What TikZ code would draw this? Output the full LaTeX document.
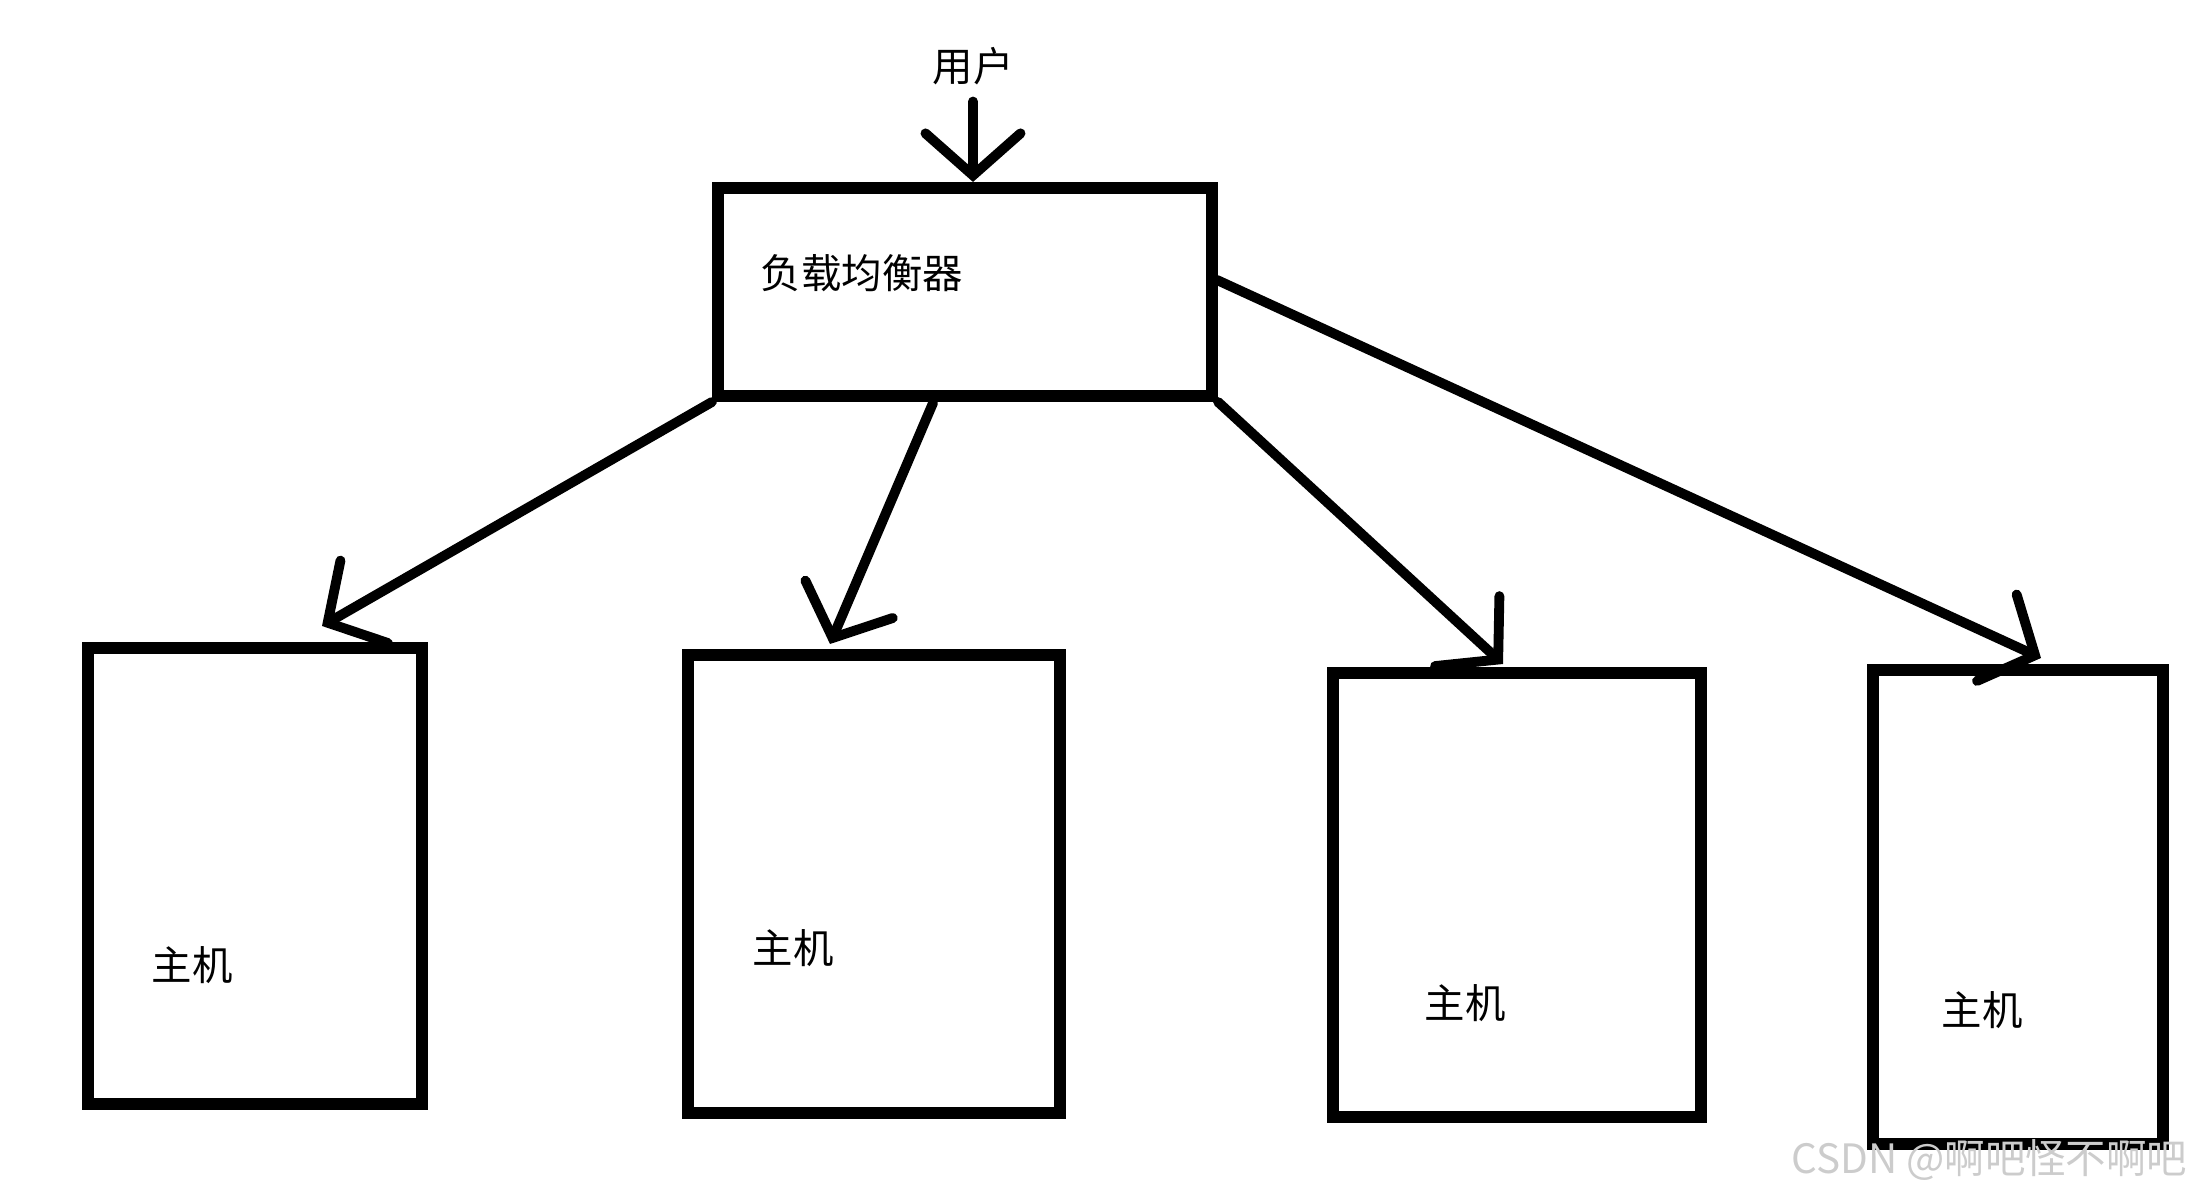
\documentclass[tikz,border=0pt]{standalone}
\usepackage{fontspec}
\setmainfont{Noto Sans CJK SC}
\usetikzlibrary{arrows.meta}

\begin{document}
\begin{tikzpicture}[x=0.01cm, y=-0.01cm,
    box/.style = {draw, line width=3.4pt, inner sep=0pt},
    txt/.style = {font=\fontsize{11.5}{14}\selectfont, inner sep=0pt},
    conn/.style = {line width=2.8pt, line cap=round,
        -{Straight Barb[length=0.42cm, width=0.95cm, line cap=round]}}]
    \useasboundingbox (0,0) rectangle (2196,1198);
    % load balancer and user
    \node[txt] (user) at (973,66) {用户};
    \node[box, minimum width=4.94cm, minimum height=2.08cm] (lb) at (965,292) {};
    \node[txt, anchor=west] (lbtext) at (760,273) {负载均衡器};
    % hosts
    \node[box, minimum width=3.33cm, minimum height=4.56cm] (h1) at (255,876) {};
    \node[box, minimum width=3.72cm, minimum height=4.57cm] (h2) at (874,884) {};
    \node[box, minimum width=3.67cm, minimum height=4.43cm] (h3) at (1517,895) {};
    \node[box, minimum width=2.90cm, minimum height=4.73cm] (h4) at (2018,907) {};
    \node[txt, anchor=west] (h1text) at (151,965) {主机};
    \node[txt, anchor=west] (h2text) at (752,948) {主机};
    \node[txt, anchor=west] (h3text) at (1424,1003) {主机};
    \node[txt, anchor=west] (h4text) at (1941,1010) {主机};
    % arrow tips
    \coordinate (t1) at (322,626);
    \coordinate (t2) at (830,644);
    \coordinate (t3) at (1503,664);
    \coordinate (t4) at (2041,658);
    \coordinate (s2) at (933,403);
    \coordinate (s4) at (1217,280);
    \draw[conn, shorten <=0.16cm] (user) -- (user |- lb.north);
    \draw[conn] (lb.south west) -- (t1);
    \draw[conn] (s2) -- (t2);
    \draw[conn] (lb.south east) -- (t3);
    \draw[conn] (s4) -- (t4);
    % watermark
    \node[txt, anchor=east, text=gray!40] (wm) at (2188,1160) {CSDN @啊吧怪不啊吧};
\end{tikzpicture}
\end{document}
